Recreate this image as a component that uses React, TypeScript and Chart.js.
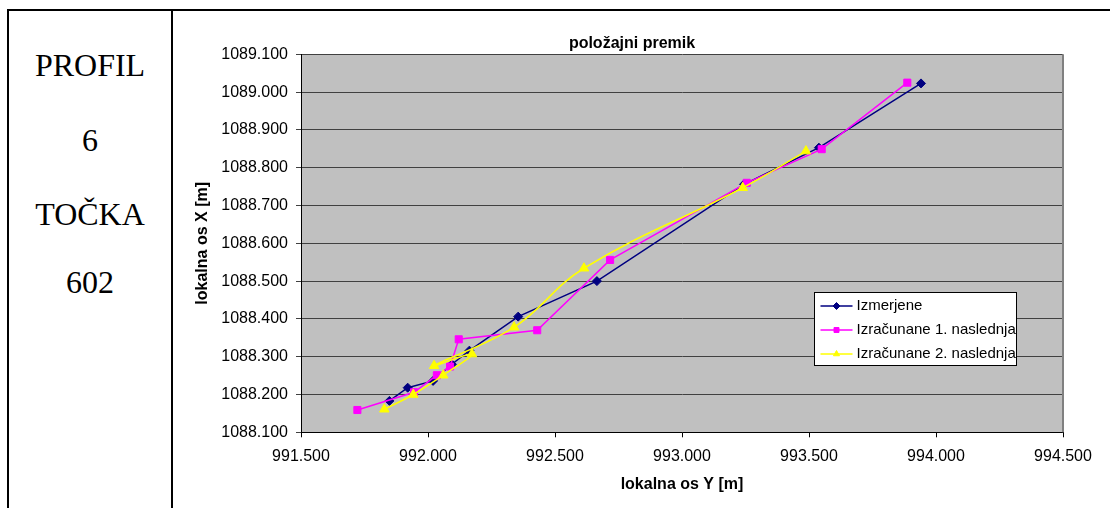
import React, { useEffect, useRef } from "react";
import { Chart, registerables } from "chart.js";
import { drawPoint } from "chart.js/helpers";

Chart.register(...registerables);

// Identification of the profile and point, shown in the left cell
const profileLines = ["PROFIL", "6", "TOČKA", "602"];

const chartTitle = "položajni premik";
const xAxisTitle = "lokalna os Y [m]";
const yAxisTitle = "lokalna os X [m]";

const seriesNames = ["Izmerjene", "Izračunane 1. naslednja", "Izračunane 2. naslednja"];

// Izmerjene: measured positions, local Y (horizontal) and local X (vertical)
const measuredY = [991.848, 991.92, 992.02, 992.094, 992.163, 992.355, 992.665, 993.244, 993.539, 993.941];
const measuredX = [1088.183, 1088.218, 1088.236, 1088.28, 1088.316, 1088.406, 1088.5, 1088.756, 1088.853, 1089.023];

// Izračunane 1. naslednja
const firstY = [991.722, 991.945, 992.035, 992.087, 992.121, 992.43, 992.717, 993.255, 993.55, 993.887];
const firstX = [1088.159, 1088.206, 1088.251, 1088.274, 1088.346, 1088.37, 1088.556, 1088.76, 1088.849, 1089.025];

// Izračunane 2. naslednja
const secondY = [991.828, 991.942, 992.06, 992.173, 992.024, 992.339, 992.614, 993.239, 993.488];
const secondX = [1088.161, 1088.2, 1088.251, 1088.307, 1088.276, 1088.378, 1088.534, 1088.747, 1088.844];

const xTicks = [991.5, 992.0, 992.5, 993.0, 993.5, 994.0, 994.5];
const yTicks = [1088.1, 1088.2, 1088.3, 1088.4, 1088.5, 1088.6, 1088.7, 1088.8, 1088.9, 1089.0, 1089.1];

const SANS = '"Liberation Sans", Arial, Helvetica, sans-serif';
const SERIF = '"Liberation Serif", "Times New Roman", Times, serif';

// Width of the chart object the heading is centred over (canvas is wider so the last tick label fits)
const CHART_OBJECT_WIDTH = 916;

const toPoints = (xs: number[], ys: number[]) => xs.map((x, i) => ({ x, y: ys[i] }));

// Grey plot area with a grey frame on its right edge
const plotFrame = {
  id: "plotFrame",
  beforeDraw(chart: any) {
    const { ctx, chartArea: a } = chart;
    ctx.save();
    ctx.fillStyle = "#C0C0C0";
    ctx.fillRect(a.left, a.top, a.right - a.left, a.bottom - a.top);
    ctx.restore();
  },
  beforeDatasetsDraw(chart: any) {
    const { ctx, chartArea: a } = chart;
    ctx.save();
    ctx.strokeStyle = "#808080";
    ctx.lineWidth = 2;
    ctx.beginPath();
    ctx.moveTo(a.right, a.top);
    ctx.lineTo(a.right, a.bottom);
    ctx.stroke();
    ctx.restore();
  },
};

// Chart heading centred over the chart object
const heading = {
  id: "heading",
  afterDraw(chart: any) {
    const { ctx } = chart;
    ctx.save();
    ctx.font = `bold 16px ${SANS}`;
    ctx.fillStyle = "#000";
    ctx.textAlign = "center";
    ctx.textBaseline = "middle";
    ctx.fillText(chartTitle, CHART_OBJECT_WIDTH / 2, 32);
    ctx.restore();
  },
};

// Boxed legend inside the plot area, lower right
const boxedLegend = {
  id: "boxedLegend",
  afterDraw(chart: any) {
    const { ctx } = chart;
    const left = 640.5;
    const top = 280.5;
    const width = 202;
    const height = 73;
    ctx.save();
    ctx.fillStyle = "#FFFFFF";
    ctx.fillRect(left, top, width, height);
    ctx.strokeStyle = "#000";
    ctx.lineWidth = 1;
    ctx.strokeRect(left, top, width, height);
    ctx.font = `15px ${SANS}`;
    ctx.textBaseline = "middle";
    ctx.textAlign = "left";
    chart.data.datasets.forEach((ds: any, i: number) => {
      const y = top + 13.5 + i * 24;
      ctx.strokeStyle = ds.borderColor;
      ctx.lineWidth = 1.5;
      ctx.beginPath();
      ctx.moveTo(left + 6, y);
      ctx.lineTo(left + 38, y);
      ctx.stroke();
      ctx.fillStyle = ds.backgroundColor;
      ctx.lineWidth = 1;
      drawPoint(ctx, { pointStyle: ds.pointStyle, radius: 3.5, borderWidth: 1, rotation: 0 } as any, left + 22, y);
      ctx.fillStyle = "#000";
      ctx.fillText(ds.label, left + 42, y);
    });
    ctx.restore();
  },
};

export default function App() {
  const canvasRef = useRef<HTMLCanvasElement>(null);

  useEffect(() => {
    const canvas = canvasRef.current;
    if (!canvas) return;
    Chart.defaults.font.family = SANS;
    Chart.defaults.color = "#000";

    const chart = new Chart(canvas, {
      type: "scatter",
      data: {
        datasets: [
          {
            label: seriesNames[0],
            data: toPoints(measuredY, measuredX),
            showLine: true,
            borderColor: "#000080",
            backgroundColor: "#000080",
            borderWidth: 1.5,
            pointStyle: "rectRot",
            pointRadius: 4.5,
            pointBorderWidth: 1,
            tension: 0,
            order: 2,
          },
          {
            label: seriesNames[1],
            data: toPoints(firstY, firstX),
            showLine: true,
            borderColor: "#FF00FF",
            backgroundColor: "#FF00FF",
            borderWidth: 1.5,
            pointStyle: "rect",
            pointRadius: 5,
            pointBorderWidth: 1,
            tension: 0,
            order: 1,
          },
          {
            label: seriesNames[2],
            data: toPoints(secondY, secondX),
            showLine: true,
            borderColor: "#FFFF00",
            backgroundColor: "#FFFF00",
            borderWidth: 1.5,
            pointStyle: "triangle",
            pointRadius: 5.5,
            pointBorderWidth: 1,
            tension: 0.4,
            order: 0,
          },
        ],
      },
      options: {
        animation: false,
        responsive: false,
        devicePixelRatio: 1,
        layout: { padding: { top: 42.3, right: 48, bottom: 0, left: 0 } },
        plugins: {
          legend: { display: false },
          title: { display: false },
          tooltip: { enabled: false },
        },
        scales: {
          x: {
            type: "linear",
            position: "bottom",
            min: xTicks[0],
            max: xTicks[xTicks.length - 1],
            afterBuildTicks: (s: any) => {
              s.ticks = xTicks.map((v) => ({ value: v }));
            },
            afterFit: (s: any) => {
              s.height = 75.7;
              s.paddingLeft = 0;
              s.paddingRight = 0;
            },
            grid: { drawOnChartArea: false, drawTicks: true, tickLength: 5, color: "#000" },
            border: { display: true, color: "#000", width: 1 },
            ticks: {
              color: "#000",
              font: { size: 16 },
              padding: 10,
              maxRotation: 0,
              autoSkip: false,
              callback: (v: any) => Number(v).toFixed(3),
            },
            title: {
              display: true,
              text: xAxisTitle,
              color: "#000",
              font: { size: 16, weight: "bold" },
              padding: { top: 0, bottom: 13.9 },
            },
          },
          y: {
            type: "linear",
            min: yTicks[0],
            max: yTicks[yTicks.length - 1],
            afterBuildTicks: (s: any) => {
              s.ticks = yTicks.map((v) => ({ value: v }));
            },
            afterFit: (s: any) => {
              s.width = 127;
              s.paddingTop = 0;
              s.paddingBottom = 0;
            },
            grid: { drawOnChartArea: true, drawTicks: true, tickLength: 5, color: "#404040", lineWidth: 1 },
            border: { display: true, color: "#000", width: 1 },
            ticks: {
              color: "#000",
              font: { size: 16 },
              padding: 8,
              autoSkip: false,
              callback: (v: any) => Number(v).toFixed(3),
            },
            title: {
              display: true,
              text: yAxisTitle,
              color: "#000",
              font: { size: 16, weight: "bold" },
              padding: { top: 19.4, bottom: 0 },
            },
          },
        },
      },
      plugins: [plotFrame, heading, boxedLegend],
    } as any);

    return () => chart.destroy();
  }, []);

  const baselines = [76, 151, 225, 293];

  return (
    <div
      style={{
        position: "fixed",
        left: 0,
        top: 0,
        width: 1111,
        height: 508,
        background: "#FFFFFF",
        overflow: "hidden",
      }}
    >
      {/* table rules */}
      <div style={{ position: "absolute", left: 7, top: 9, width: 1103, height: 2, background: "#000" }} />
      <div style={{ position: "absolute", left: 7, top: 9, width: 2, height: 499, background: "#000" }} />
      <div style={{ position: "absolute", left: 171, top: 9, width: 2, height: 499, background: "#000" }} />

      {profileLines.map((line, i) => (
        <div
          key={line}
          style={{
            position: "absolute",
            left: 9,
            width: 162,
            top: baselines[i] - 26.8,
            textAlign: "center",
            fontFamily: SERIF,
            fontSize: 32,
            lineHeight: "32px",
            color: "#000",
            whiteSpace: "nowrap",
          }}
        >
          {line}
        </div>
      ))}

      <canvas
        ref={canvasRef}
        width={937}
        height={496}
        style={{ position: "absolute", left: 174, top: 12, width: 937, height: 496 }}
      />
    </div>
  );
}
